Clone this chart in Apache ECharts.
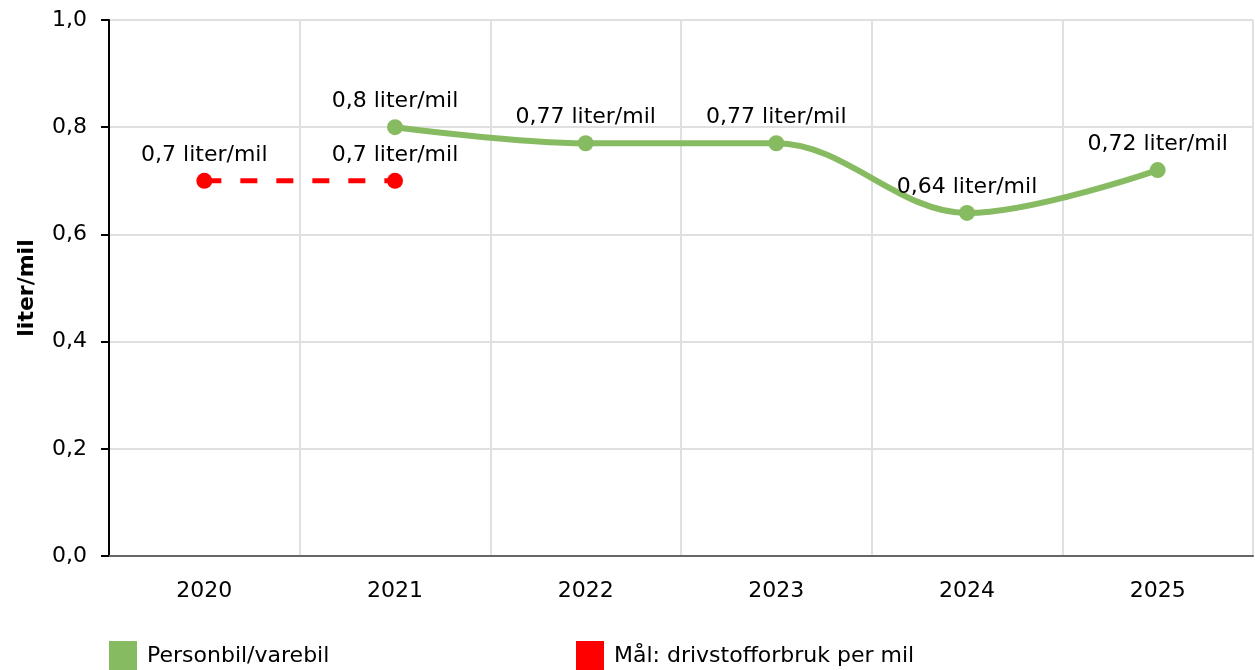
<!DOCTYPE html>
<html>
<head>
    <meta charset="utf-8" />
    <title></title>
    <style>
        html, body {
            margin: 0;
            padding: 0;
            background: #fff;
        }
        #chart {
            width: 1255px;
            height: 670px;
        }
    </style>
    <script src="https://cdn.jsdelivr.net/npm/echarts@6/dist/echarts.min.js"></script>
</head>
<body>
    <div id="chart"></div>
    <script>
        var years = ['2020', '2021', '2022', '2023', '2024', '2025'];
        var personbil = [null, 0.8, 0.77, 0.77, 0.64, 0.72];
        var maal = [0.7, 0.7, null, null, null, null];
        var yTicks = [0, 0.2, 0.4, 0.6, 0.8, 1.0];

        var font = 'DejaVu Sans, Verdana, sans-serif';
        var fs = 22;

        function komma(v) {
            return String(v).replace('.', ',');
        }

        var myChart = echarts.init(document.getElementById('chart'));
        var option = {
            animation: false,
            textStyle: { fontFamily: font },
            grid: {
                left: 109,
                right: 2,
                top: 20,
                bottom: 114,
                containLabel: false
            },
            legend: [
                {
                    left: 109,
                    top: 641,
                    padding: 0,
                    icon: 'rect',
                    itemWidth: 28,
                    itemHeight: 31,
                    textStyle: { fontSize: fs, color: '#000', fontFamily: font, padding: [6, 0, 0, 5] },
                    data: ['Personbil/varebil']
                },
                {
                    left: 576,
                    top: 641,
                    padding: 0,
                    icon: 'rect',
                    itemWidth: 28,
                    itemHeight: 31,
                    textStyle: { fontSize: fs, color: '#000', fontFamily: font, padding: [6, 0, 0, 5] },
                    data: ['Mål: drivstofforbruk per mil']
                }
            ],
            xAxis: {
                type: 'category',
                data: years,
                boundaryGap: true,
                axisLine: { lineStyle: { color: '#666', width: 2 } },
                axisTick: { alignWithLabel: true, length: 8, lineStyle: { color: '#999', width: 2 } },
                axisLabel: { fontSize: fs, color: '#000', margin: 24, fontFamily: font },
                splitLine: { show: true, lineStyle: { color: '#e0e0e0', width: 2 } }
            },
            yAxis: {
                type: 'value',
                min: yTicks[0],
                max: yTicks[yTicks.length - 1],
                interval: 0.2,
                name: 'liter/mil',
                nameLocation: 'middle',
                nameGap: 71,
                nameTextStyle: { fontSize: fs, fontWeight: 'bold', color: '#000', fontFamily: font },
                axisLine: { show: true, lineStyle: { color: '#000', width: 2 } },
                axisTick: { show: true, length: 8, lineStyle: { color: '#000', width: 2 } },
                axisLabel: {
                    fontSize: fs,
                    color: '#000',
                    margin: 22,
                    fontFamily: font,
                    formatter: function (v) { return v.toFixed(1).replace('.', ','); }
                },
                splitLine: { show: true, lineStyle: { color: '#e0e0e0', width: 2 } }
            },
            series: [
                {
                    name: 'Personbil/varebil',
                    type: 'line',
                    data: personbil,
                    smooth: 0.35,
                    color: '#87bb62',
                    symbol: 'circle',
                    symbolSize: 16,
                    lineStyle: { width: 6, color: '#87bb62' },
                    itemStyle: { color: '#87bb62' },
                    label: {
                        show: true,
                        position: 'top',
                        distance: 7,
                        fontSize: fs,
                        color: '#000',
                        fontFamily: font,
                        formatter: function (p) { return komma(p.value) + ' liter/mil'; }
                    }
                },
                {
                    name: 'Mål: drivstofforbruk per mil',
                    type: 'line',
                    data: maal,
                    color: '#ff0000',
                    symbol: 'circle',
                    symbolSize: 16,
                    lineStyle: { width: 5, color: '#ff0000', type: [17, 19] },
                    itemStyle: { color: '#ff0000' },
                    label: {
                        show: true,
                        position: 'top',
                        distance: 7,
                        fontSize: fs,
                        color: '#000',
                        fontFamily: font,
                        formatter: function (p) { return komma(p.value) + ' liter/mil'; }
                    }
                }
            ]
        };
        myChart.setOption(option);
    </script>
</body>
</html>
